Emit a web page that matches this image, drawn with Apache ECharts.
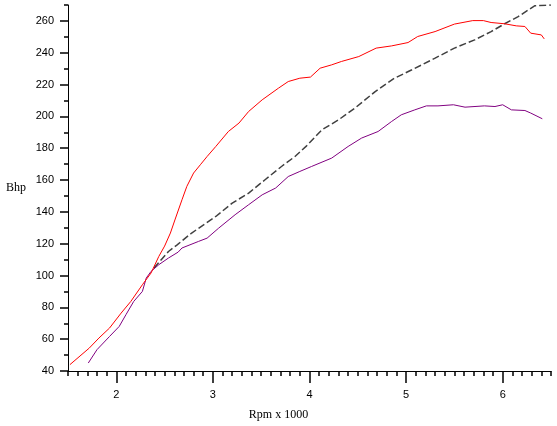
<!DOCTYPE html>
<html>
<head>
<meta charset="utf-8">
<script src="https://cdn.jsdelivr.net/npm/echarts@6/dist/echarts.min.js"></script>
<style>
html,body{margin:0;padding:0;background:#fff;}
#c{width:557px;height:426px;}
</style>
</head>
<body>
<div id="c"></div>
<script>
// Data: [rpm x 1000, bhp]
var redCurve = [
  [1.52,44.0],[1.72,54.4],[1.82,60.7],[1.93,67.0],[2.05,76.4],[2.15,83.7],[2.27,94.2],
  [2.36,101.6],[2.44,112.0],[2.50,118.5],[2.56,126.7],[2.61,135.5],[2.68,147.6],[2.73,156.0],
  [2.80,164.4],[2.87,169.6],[2.94,174.8],[3.03,181.1],[3.16,190.5],[3.27,195.8],[3.37,203.1],
  [3.51,210.4],[3.68,217.8],[3.78,221.9],[3.90,224.0],[4.01,224.7],[4.11,230.3],[4.23,232.4],
  [4.33,234.5],[4.51,237.6],[4.69,242.9],[4.85,244.3],[5.02,246.4],[5.12,250.2],[5.30,253.3],
  [5.50,258.0],[5.69,260.2],[5.80,260.2],[5.88,259.0],[6.02,258.2],[6.14,256.9],[6.23,256.5],
  [6.29,252.3],[6.40,251.2],[6.43,248.7]
];
var grayCurve = [
  [2.39,104.7],[2.54,115.1],[2.63,119.3],[2.78,126.7],[3.03,137.1],[3.20,145.5],[3.37,151.8],
  [3.54,160.2],[3.71,168.5],[3.85,174.8],[3.97,181.5],[4.13,191.6],[4.30,197.8],[4.47,205.2],
  [4.68,215.6],[4.88,224.0],[5.06,229.3],[5.30,236.6],[5.50,242.9],[5.71,248.1],[5.88,253.3],
  [6.02,258.2],[6.16,262.7],[6.33,269.5],[6.50,270.0]
];
var purpleCurve = [
  [1.71,45.0],[1.80,53.4],[1.93,61.7],[2.03,68.0],[2.10,75.4],[2.18,83.7],[2.27,90.0],
  [2.31,98.4],[2.36,102.6],[2.44,106.8],[2.54,111.0],[2.64,114.7],[2.68,117.3],[2.85,121.4],
  [2.94,123.5],[3.06,129.8],[3.23,138.2],[3.37,144.5],[3.51,150.7],[3.65,155.0],[3.78,162.2],
  [3.90,165.4],[4.02,168.5],[4.23,173.8],[4.40,181.1],[4.54,186.4],[4.71,190.5],[4.85,196.8],
  [4.95,201.0],[5.09,204.1],[5.21,206.6],[5.33,206.6],[5.49,207.3],[5.61,205.8],[5.81,206.6],
  [5.92,206.2],[6.00,207.3],[6.09,204.1],[6.23,203.7],[6.29,202.1],[6.41,198.5]
];
var xMajorTicks = [2,3,4,5,6];
var yMajorTicks = [40,60,80,100,120,140,160,180,200,220,240,260];

var chart = echarts.init(document.getElementById('c'));
chart.setOption({
  animation:false,
  grid:{left:68,right:6,top:5,bottom:55},
  graphic:[
    {type:'text',left:'center',x:0,top:409,
     style:{text:'Rpm x 1000',fill:'#000',font:'12px "Liberation Serif"'}}
  ],
  xAxis:[
    {type:'value',min:1.5,max:6.5,interval:0.1,position:'bottom',
     axisLine:{show:true,onZero:false,lineStyle:{color:'#000'}},
     axisTick:{show:true,inside:false,length:5,lineStyle:{color:'#000',width:1.5}},
     axisLabel:{show:false},splitLine:{show:false}},
    {type:'value',min:1.5,max:6.5,position:'bottom',
     axisLine:{show:false,onZero:false},
     axisTick:{show:true,inside:false,length:12,customValues:xMajorTicks,lineStyle:{color:'#000',width:1.5}},
     axisLabel:{show:true,margin:18,customValues:xMajorTicks,color:'#000',fontFamily:'Liberation Sans',fontSize:11},
     splitLine:{show:false}}
  ],
  yAxis:[
    {type:'value',min:40,max:270,interval:10,position:'left',
     axisLine:{show:true,onZero:false,lineStyle:{color:'#000'}},
     axisTick:{show:true,length:4,lineStyle:{color:'#000',width:1.5}},
     axisLabel:{show:false},splitLine:{show:false},
     name:'Bhp',nameLocation:'middle',nameRotate:0,nameGap:42,
     nameTextStyle:{color:'#000',fontFamily:'Liberation Serif',fontSize:12}},
    {type:'value',min:40,max:270,position:'left',
     axisLine:{show:false,onZero:false},
     axisTick:{show:true,length:8,customValues:yMajorTicks,lineStyle:{color:'#000',width:1.5}},
     axisLabel:{show:true,margin:14,customValues:yMajorTicks,color:'#000',fontFamily:'Liberation Sans',fontSize:11},
     splitLine:{show:false}}
  ],
  series:[
    {type:'line',data:grayCurve,xAxisIndex:0,yAxisIndex:0,showSymbol:false,
     lineStyle:{color:'#404040',width:1.5,type:[7,3]}},
    {type:'line',data:purpleCurve,xAxisIndex:0,yAxisIndex:0,showSymbol:false,
     lineStyle:{color:'#800080',width:1}},
    {type:'line',data:redCurve,xAxisIndex:0,yAxisIndex:0,showSymbol:false,
     lineStyle:{color:'#ff0000',width:1}}
  ]
});
</script>
</body>
</html>
